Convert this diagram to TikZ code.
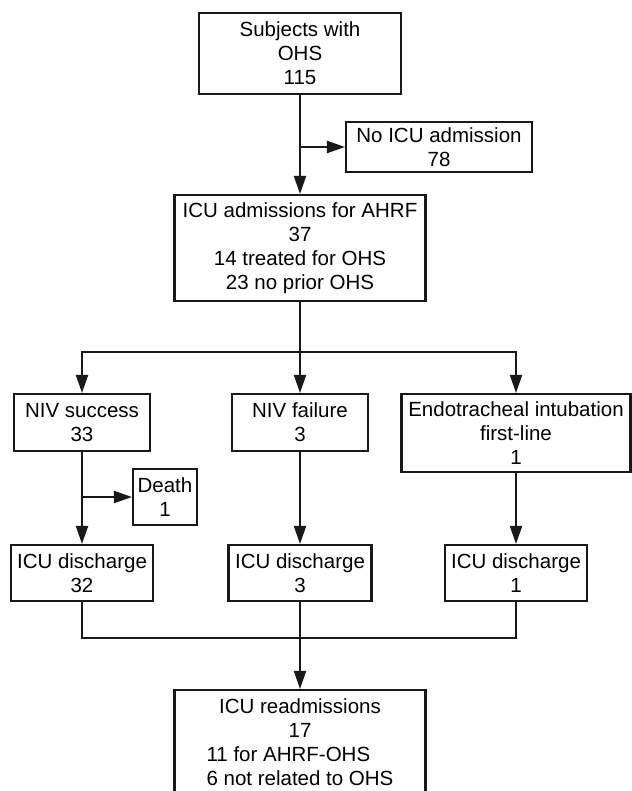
\documentclass[tikz,border=0pt]{standalone}
\usepackage{fontspec}
\setmainfont{Liberation Sans}
\usepackage{calc}
\usetikzlibrary{arrows.meta}
\begin{document}
\begin{tikzpicture}[x=1pt,y=-1pt,
  box/.style={draw=black!90, line width=2.1pt, inner sep=0pt, align=center,
    font=\fontsize{20.5}{24}\selectfont},
  link/.style={draw=black!90, line width=2.1pt},
  arr/.style={link, -{Triangle[length=18pt,width=12pt]}}]
\useasboundingbox (0,0) rectangle (631,791);
\node[box, minimum width=202, minimum height=81] (top) at (300,53.5) {Subjects with\\OHS\\115};
\node[box, minimum width=186, minimum height=50] (noicu) at (439,147) {No ICU admission\\78};
\node[box, minimum width=251, minimum height=106] (adm) at (300,248) {ICU admissions for AHRF\\37\\14 treated for OHS\\23 no prior OHS};
\node[box, minimum width=136, minimum height=57] (nivs) at (82,422.5) {NIV success\\33};
\node[box, minimum width=136, minimum height=57] (nivf) at (300,422.5) {NIV failure\\3};
\node[box, minimum width=229, minimum height=78] (endo) at (516,433) {Endotracheal intubation\\first-line\\1};
\node[box, minimum width=64, minimum height=56] (death) at (165,497) {Death\\1};
\node[box, minimum width=142, minimum height=56] (ds) at (82,573) {ICU discharge\\32};
\node[box, minimum width=143, minimum height=56] (df) at (300,573) {ICU discharge\\3};
\node[box, minimum width=142, minimum height=56] (de) at (516,573) {ICU discharge\\1};
\node[box, minimum width=251, minimum height=105] (readm) at (300,742.5) {ICU readmissions\\17\\\makebox[\widthof{6 not related to OHS}][l]{11 for AHRF-OHS}\\6 not related to OHS};
\coordinate (split) at (300,352);
\coordinate (join) at (300,638);
% top part
\draw[arr] (top.south) -- (adm.north);
\draw[arr] (top.south |- noicu.west) -- (noicu.west);
% branches
\draw[link] (adm.south) -- (split);
\draw[arr] (split) -| (nivs.north);
\draw[arr] (split) -- (nivf.north);
\draw[arr] (split) -| (endo.north);
% columns
\draw[arr] (nivs.south) -- (ds.north);
\draw[arr] (nivs.south |- death.west) -- (death.west);
\draw[arr] (nivf.south) -- (df.north);
\draw[arr] (endo.south) -- (de.north);
% join
\draw[link] (ds.south) |- (join);
\draw[link] (de.south) |- (join);
\draw[arr] (df.south) -- (readm.north);
\end{tikzpicture}
\end{document}
